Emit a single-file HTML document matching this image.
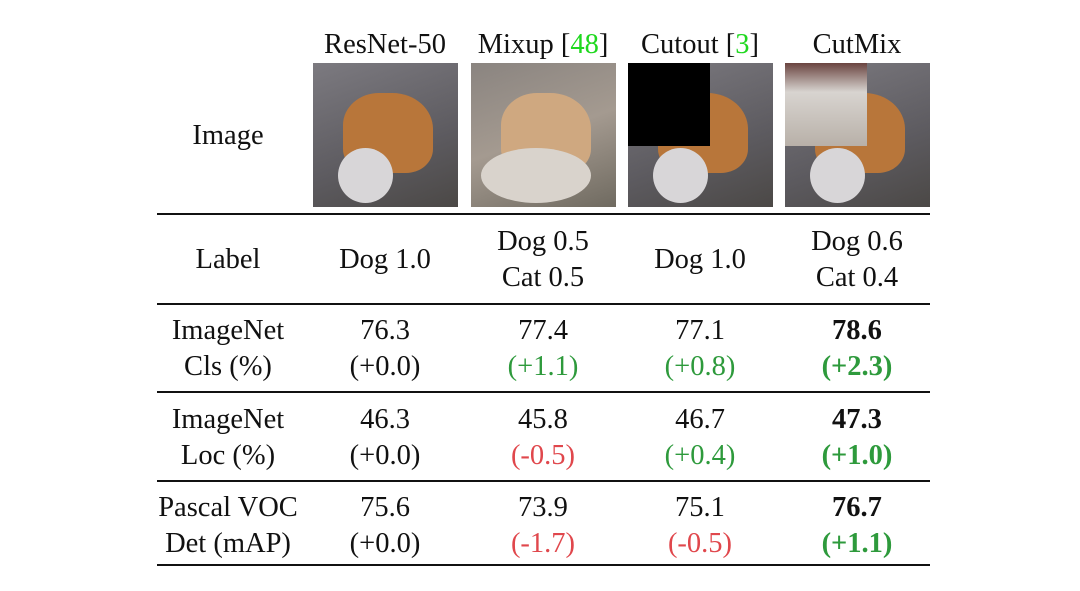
<!DOCTYPE html>
<html><head><meta charset="utf-8"><style>
body{margin:0;width:1080px;height:591px;background:#fff;position:relative;overflow:hidden;font-family:"Liberation Serif",serif;color:#111}
.t{position:absolute;font-size:28.5px;text-align:center;transform:translate(-50%,-50%);white-space:nowrap;line-height:36px}
.g{color:#2e9a3c}.r{color:#e0474c}.b{font-weight:bold}.hg{color:#1fd81f}
.rule{position:absolute;left:157px;width:773px;background:#111}
.img{position:absolute;top:63px;width:145px;height:144px;overflow:hidden;background:linear-gradient(160deg,#7c7a80,#5d5b60 60%,#4b4846)}
.dog{position:absolute;left:30px;top:30px;width:90px;height:80px;border-radius:40% 45% 30% 30%;background:#b8763a}
.white{position:absolute;left:25px;top:85px;width:55px;height:55px;border-radius:50%;background:#d8d6d8}
</style></head><body>
<div class="t" style="left:385px;top:45px">ResNet-50</div>
<div class="t" style="left:543px;top:45px">Mixup [<span class="hg">48</span>]</div>
<div class="t" style="left:700px;top:45px">Cutout [<span class="hg">3</span>]</div>
<div class="t" style="left:857px;top:45px">CutMix</div>
<div class="t" style="left:228px;top:136px">Image</div>

<div class="img" style="left:313px"><div class="dog"></div><div class="white"></div></div>
<div class="img" style="left:471px;background:linear-gradient(160deg,#8a8480,#a49a90 50%,#6f6a60)"><div class="dog" style="background:#cfa880"></div><div class="white" style="width:110px;left:10px;background:#d9d3cc"></div></div>
<div class="img" style="left:628px"><div class="dog"></div><div class="white"></div><div style="position:absolute;left:0;top:0;width:82px;height:83px;background:#000"></div></div>
<div class="img" style="left:785px"><div class="dog"></div><div class="white"></div><div style="position:absolute;left:0;top:0;width:82px;height:83px;background:linear-gradient(180deg,#6a4440,#d8d4d0 35%,#b8b0a8)"></div></div>

<div class="rule" style="top:213px;height:2px"></div>
<div class="rule" style="top:303px;height:1.5px"></div>
<div class="rule" style="top:391px;height:1.5px"></div>
<div class="rule" style="top:480px;height:1.5px"></div>
<div class="rule" style="top:564px;height:2px"></div>

<div class="t" style="left:228px;top:260px">Label</div>
<div class="t" style="left:385px;top:260px">Dog 1.0</div>
<div class="t" style="left:543px;top:260px">Dog 0.5<br>Cat 0.5</div>
<div class="t" style="left:700px;top:260px">Dog 1.0</div>
<div class="t" style="left:857px;top:260px">Dog 0.6<br>Cat 0.4</div>

<div class="t" style="left:228px;top:349px">ImageNet<br>Cls (%)</div>
<div class="t" style="left:385px;top:349px">76.3<br>(+0.0)</div>
<div class="t" style="left:543px;top:349px">77.4<br><span class="g">(+1.1)</span></div>
<div class="t" style="left:700px;top:349px">77.1<br><span class="g">(+0.8)</span></div>
<div class="t b" style="left:857px;top:349px">78.6<br><span class="g">(+2.3)</span></div>

<div class="t" style="left:228px;top:438px">ImageNet<br>Loc (%)</div>
<div class="t" style="left:385px;top:438px">46.3<br>(+0.0)</div>
<div class="t" style="left:543px;top:438px">45.8<br><span class="r">(-0.5)</span></div>
<div class="t" style="left:700px;top:438px">46.7<br><span class="g">(+0.4)</span></div>
<div class="t b" style="left:857px;top:438px">47.3<br><span class="g">(+1.0)</span></div>

<div class="t" style="left:228px;top:526px">Pascal VOC<br>Det (mAP)</div>
<div class="t" style="left:385px;top:526px">75.6<br>(+0.0)</div>
<div class="t" style="left:543px;top:526px">73.9<br><span class="r">(-1.7)</span></div>
<div class="t" style="left:700px;top:526px">75.1<br><span class="r">(-0.5)</span></div>
<div class="t b" style="left:857px;top:526px">76.7<br><span class="g">(+1.1)</span></div>
</body></html>
